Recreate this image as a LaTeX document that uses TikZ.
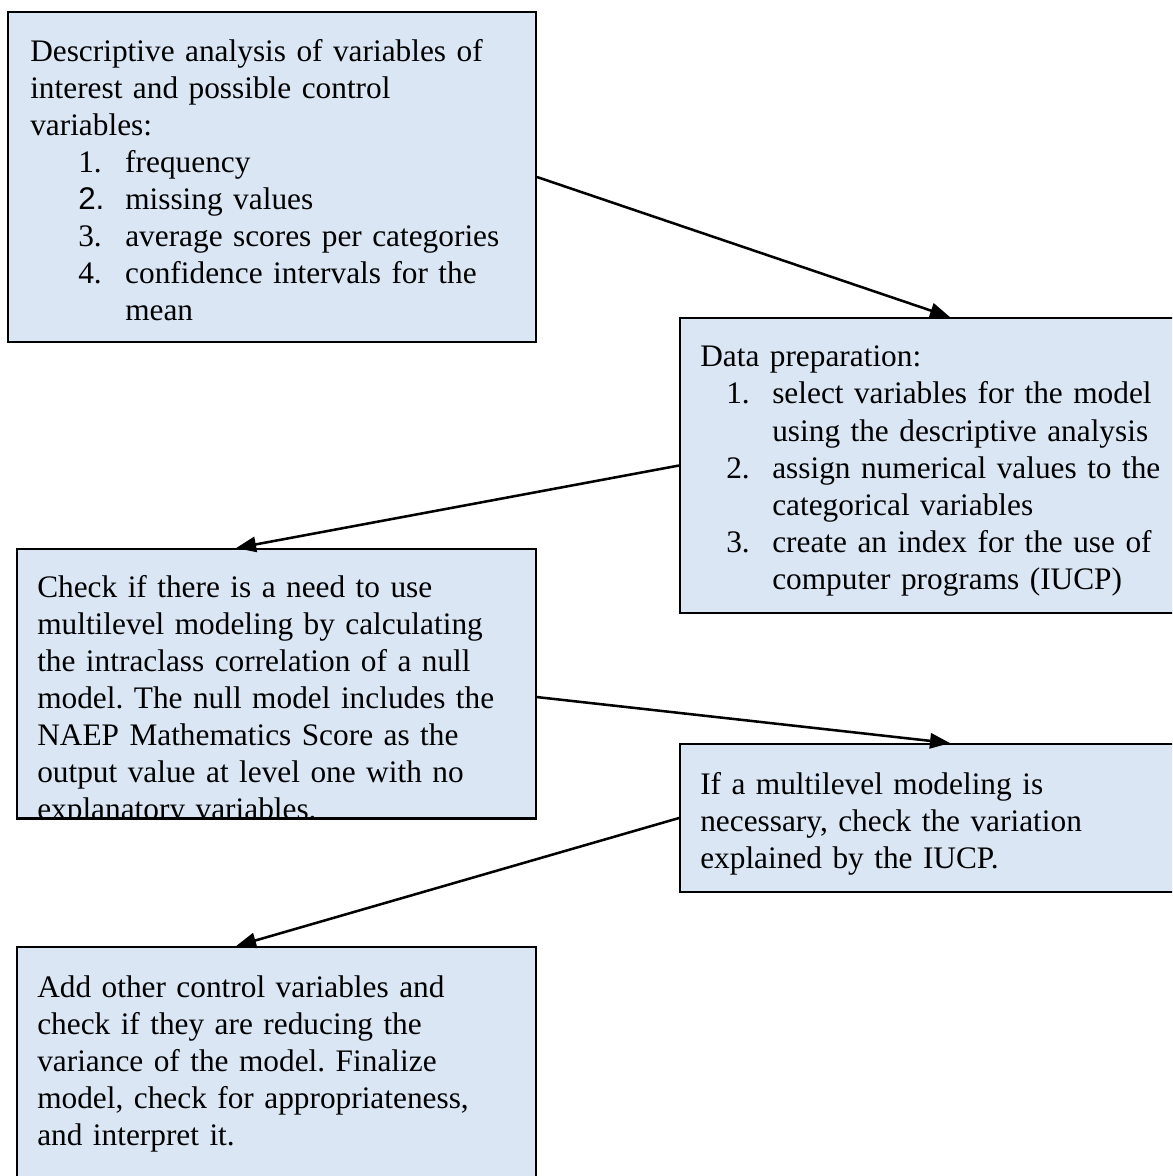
\documentclass[tikz,border=0pt]{standalone}
\usepackage{fontspec}
\setmainfont{Liberation Serif}
\newfontfamily\arialfont{Liberation Sans}
\usetikzlibrary{fit,calc,arrows.meta}
\definecolor{boxblue}{RGB}{218,230,244}
\frenchspacing
\tikzset{
  box/.style={draw=black, fill=boxblue, line width=1.4pt, inner sep=0pt, rectangle},
  txt/.style={anchor=base west, inner sep=0pt, text width=600pt, align=left,
    font=\fontsize{23.5}{27.75}\selectfont},
  arr/.style={line width=1.9pt, -{Triangle[length=15pt,width=11.5pt]}}
}
\newcommand{\itemA}[1]{\hspace*{36pt}\makebox[35.25pt][l]{#1}}
\newcommand{\itemB}[1]{\hspace*{19.5pt}\makebox[34.5pt][l]{#1}}
\begin{document}
\begin{tikzpicture}[x=0.75pt,y=-0.75pt]
\clip (0,0) rectangle (1172,1176);
\fill[white] (0,0) rectangle (1172,1176);
% boxes
\node[box, fit={(8,12) (536,342)}] (b1) {};
\node[box, fit={(680,318) (1220,613)}] (b2) {};
\node[box, fit={(17,549) (536,818)}] (b3) {};
\node[box, fit={(680,744) (1220,892)}] (b4) {};
\node[box, fit={(17,947) (536,1200)}] (b5) {};
% texts
\node[txt] (t1) at (30,62) {Descriptive analysis of variables of\\
interest and possible control\\
variables:\\
\itemA{1.}frequency\\
\itemA{\arialfont 2.}missing values\\
\itemA{3.}average scores per categories\\
\itemA{4.}confidence intervals for the\\
\hspace*{71.25pt}mean};
\node[txt] (t2) at (700,367) {Data preparation:\\
\itemB{1.}select variables for the model\\
\hspace*{54pt}using the descriptive analysis\\
\itemB{2.}assign numerical values to the\\
\hspace*{54pt}categorical variables\\
\itemB{3.}create an index for the use of\\
\hspace*{54pt}computer programs (IUCP)};
\begin{scope}
\clip (b3.south west) rectangle (b3.north east);
\node[txt] (t3) at (37,597) {Check if there is a need to use\\
multilevel modeling by calculating\\
the intraclass correlation of a null\\
model. The null model includes the\\
NAEP Mathematics Score as the\\
output value at level one with no\\
explanatory variables.};
\end{scope}
\draw[line width=1.4pt] (b3.south west) -- (b3.south east);
\node[txt] (t4) at (700,794) {If a multilevel modeling is\\
necessary, check the variation\\
explained by the IUCP.};
\node[txt] (t5) at (37,997) {Add other control variables and\\
check if they are reducing the\\
variance of the model. Finalize\\
model, check for appropriateness,\\
and interpret it.};
% connector end points
\coordinate (e2) at ($(b3.north west)+(220,0)$);
\coordinate (s3) at ($(b3.north east)+(0,149)$);
\coordinate (e4) at ($(b5.north west)+(220,0)$);
% arrows
\draw[arr] (b1.east) -- (b2.north);
\draw[arr] (b2.west) -- (e2);
\draw[arr] (s3) -- (b4.north);
\draw[arr] (b4.west) -- (e4);
\end{tikzpicture}
\end{document}
